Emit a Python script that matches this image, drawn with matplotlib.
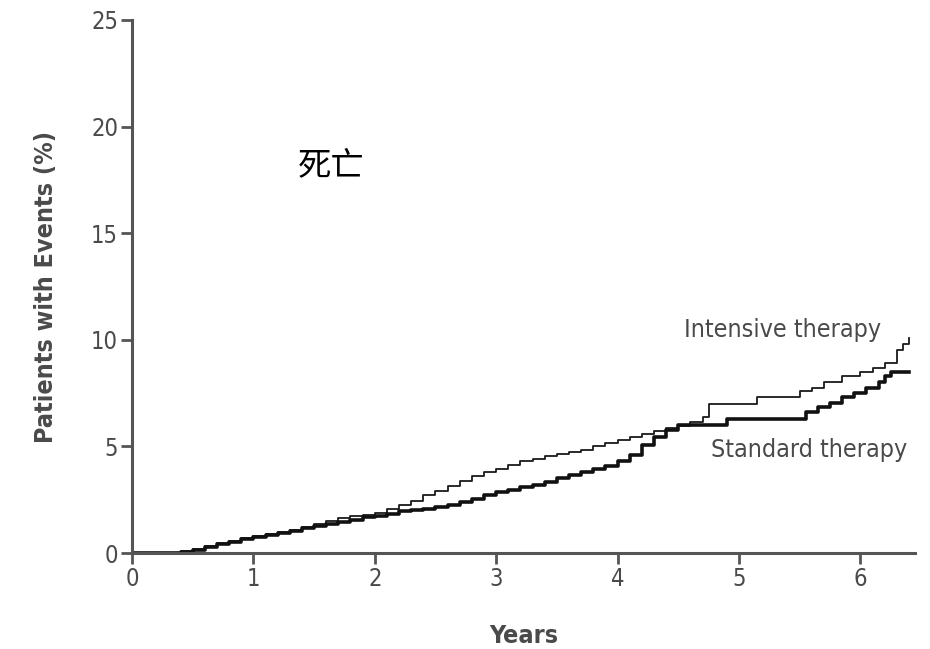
import matplotlib
matplotlib.use("Agg")
import matplotlib.pyplot as plt
from matplotlib import font_manager

# Cumulative event curves (years, % of patients with events)
intensive_years = [0, 0.3, 0.4, 0.5, 0.6, 0.7, 0.8, 0.9, 1.0, 1.1, 1.2, 1.3, 1.4, 1.5,
                   1.6, 1.7, 1.8, 1.9, 2.0, 2.1, 2.2, 2.3, 2.4, 2.5, 2.6, 2.7, 2.8, 2.9,
                   3.0, 3.1, 3.2, 3.3, 3.4, 3.5, 3.6, 3.7, 3.8, 3.9, 4.0, 4.1, 4.2, 4.3,
                   4.4, 4.5, 4.6, 4.7, 4.75, 5.15, 5.5, 5.6, 5.7, 5.85, 6.0, 6.1, 6.2,
                   6.3, 6.35, 6.4]
intensive_pct = [0, 0.02, 0.08, 0.2, 0.32, 0.45, 0.58, 0.7, 0.8, 0.9, 1.0, 1.1, 1.22, 1.35,
                 1.5, 1.62, 1.72, 1.8, 1.9, 2.05, 2.25, 2.45, 2.7, 2.9, 3.15, 3.4, 3.6, 3.8,
                 3.95, 4.15, 4.3, 4.4, 4.55, 4.65, 4.75, 4.85, 5.0, 5.15, 5.3, 5.45, 5.6, 5.7,
                 5.85, 5.95, 6.15, 6.4, 7.0, 7.3, 7.6, 7.75, 8.0, 8.3, 8.5, 8.7, 8.9,
                 9.5, 9.8, 10.1]

standard_years = [0, 0.4, 0.5, 0.6, 0.7, 0.8, 0.9, 1.0, 1.1, 1.2, 1.3, 1.4, 1.5, 1.6,
                  1.7, 1.8, 1.9, 2.0, 2.1, 2.2, 2.3, 2.4, 2.5, 2.6, 2.7, 2.8, 2.9, 3.0,
                  3.1, 3.2, 3.3, 3.4, 3.5, 3.6, 3.7, 3.8, 3.9, 4.0, 4.1, 4.2, 4.3, 4.4,
                  4.5, 4.9, 5.55, 5.65, 5.75, 5.85, 5.95, 6.05, 6.15, 6.2, 6.25, 6.4]
standard_pct = [0, 0.05, 0.15, 0.28, 0.4, 0.52, 0.65, 0.75, 0.85, 0.95, 1.05, 1.15, 1.25, 1.35,
                1.45, 1.55, 1.68, 1.75, 1.85, 1.95, 2.0, 2.05, 2.15, 2.25, 2.4, 2.55, 2.7, 2.85,
                2.95, 3.1, 3.2, 3.35, 3.5, 3.65, 3.8, 3.95, 4.1, 4.3, 4.6, 5.05, 5.45, 5.75,
                6.0, 6.3, 6.6, 6.85, 7.05, 7.3, 7.5, 7.75, 8.0, 8.3, 8.5, 8.5]

x_ticks = [0, 1, 2, 3, 4, 5, 6]
y_ticks = [0, 5, 10, 15, 20, 25]

installed = {f.name for f in font_manager.fontManager.ttflist}
narrow = "Liberation Sans Narrow" if "Liberation Sans Narrow" in installed else "DejaVu Sans"
stretch = "normal" if narrow == "Liberation Sans Narrow" else "condensed"

axis_grey = "#555555"
text_grey = "#4a4a4a"
font = dict(fontfamily=narrow, fontstretch=stretch, color=text_grey)

fig = plt.figure(figsize=(9.3, 6.49), dpi=100)
ax = fig.add_axes([0.1419, 0.1479, 0.842, 0.8213])

ax.step(intensive_years, intensive_pct, where="post", color="#1a1a1a", lw=1.3)
ax.step(standard_years, standard_pct, where="post", color="#111111", lw=2.6)

ax.set_xlim(0, 6.45)
ax.set_ylim(0, 25)
ax.set_xticks(x_ticks)
ax.set_yticks(y_ticks)
ax.set_xticklabels([str(t) for t in x_ticks], fontsize=17, **font)
ax.set_yticklabels([str(t) for t in y_ticks], fontsize=17, **font)

for side in ("top", "right"):
    ax.spines[side].set_visible(False)
for side in ("left", "bottom"):
    ax.spines[side].set_color(axis_grey)
    ax.spines[side].set_linewidth(2.2)
ax.tick_params(direction="out", length=8, width=2, color=axis_grey, pad=2)

ax.set_xlabel("Years", fontsize=18, fontweight="bold", labelpad=24, **font)
ax.set_ylabel("Patients with Events (%)", fontsize=18, fontweight="bold",
              labelpad=24, **font)

ax.text(1.64, 18.15, "死亡", fontfamily=["Noto Sans CJK SC", "DejaVu Sans"],
        fontsize=24, color="black", ha="center", va="center")
ax.text(6.17, 10.46, "Intensive therapy", fontsize=18, ha="right", va="center", **font)
ax.text(6.39, 4.83, "Standard therapy", fontsize=18, ha="right", va="center", **font)

fig.savefig("out.png", dpi=100)
